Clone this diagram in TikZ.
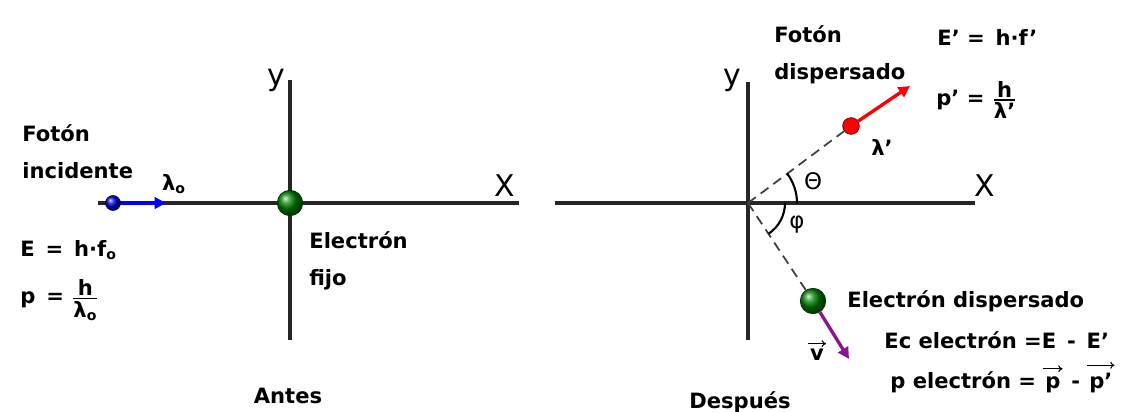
\documentclass[tikz,border=0pt]{standalone}
\usepackage{fontspec}
\usepackage{amsmath}
\setmainfont{DejaVu Sans}
\usetikzlibrary{arrows.meta}

\definecolor{purpura}{RGB}{140,20,140}
\tikzset{
  txt/.style={font=\fontsize{12}{21}\selectfont\bfseries, inner sep=0pt, align=left},
  axlbl/.style={font=\fontsize{17}{17}\selectfont, inner sep=0pt},
  anglbl/.style={font=\fontsize{13}{13}\selectfont, inner sep=0pt},
  axis/.style={line width=1.9pt, black!85},
  ray/.style={line width=1pt, black!75, dash pattern=on 5.5pt off 3.5pt},
  vec/.style={line width=1.9pt, ->},
  flecha/.style={line width=0.6pt, -{To[length=2.5pt, width=4pt]}},
  bola/.style={circle, inner sep=0pt, shading=ball},
}
\newcommand{\fracb}[2]{\ensuremath{\genfrac{}{}{1pt}{}{\mbox{#1}}{\mbox{#2}}}}

\begin{document}
\begin{tikzpicture}[x=0.02cm, y=-0.02cm, >={Triangle[length=6.5pt, width=6.5pt]}]
    \useasboundingbox (0,0) rectangle (1125,412);
    \fill[white] (0,0) rectangle (1125,412);

    % antes
    \coordinate (oA) at (290,203);
    \draw[axis] (98,203) coordinate (xA0) -- (519,203) coordinate (xA1);
    \draw[axis] (290,340) coordinate (yA0) -- (290,80) coordinate (yA1);
    \node[axlbl] (yA) at (276,80) {y};
    \node[axlbl] (xA) at (505,186) {X};

    \node[bola, draw=blue!40!black, ball color=blue!85!black, minimum size=8.5pt] (fotonI) at (113,203) {};
    \coordinate (fotonIfin) at (166,203);
    \draw[vec, blue] (fotonI) -- (fotonIfin);
    \node[txt] (lamI) at (174,184) {λ\textsubscript{o}};

    \node[bola, draw=green!20!black, ball color=green!50!black, minimum size=14.5pt] (elecF) at (oA) {};

    \node[txt, anchor=west] (fotonInc) at (22,152) {Fotón\\incidente};
    \node[txt, anchor=west] (energA) at (20,250) {E \,=\, h·f\textsubscript{o}};
    \node[txt, anchor=west] (momA) at (20,300) {p \,= \fracb{h}{λ\textsubscript{o}}};
    \node[txt, anchor=west] (elecFtxt) at (309,261) {Electrón\\fijo};
    \node[txt] (antes) at (288,396) {Antes};

    % despues
    \coordinate (oD) at (748,203);
    \draw[axis] (555,203) coordinate (xD0) -- (975,203) coordinate (xD1);
    \draw[axis] (748,340) coordinate (yD0) -- (748,82) coordinate (yD1);
    \node[axlbl] (yD) at (732,80) {y};
    \node[axlbl] (xD) at (985,186) {X};

    \node[circle, draw=red!40!black, fill=red, minimum size=9.5pt, inner sep=0pt] (fotonD) at (851,126) {};
    \node[bola, draw=green!20!black, ball color=green!50!black, minimum size=14.5pt] (elecD) at (813,301) {};
    \draw[ray] (oD) -- (fotonD);
    \draw[ray] (oD) -- (elecD);
    \coordinate (fotonDfin) at (910,86);
    \coordinate (elecDfin) at (849,359);
    \draw[vec, red] (fotonD) -- (fotonDfin);
    \draw[vec, purpura] (elecD) -- (elecDfin);

    \draw[line width=1.2pt] (oD) ++(49,0) arc (0:-37:49);
    \draw[line width=1.2pt] (oD) ++(37,0) arc (0:56:37);
    \node[anglbl] (theta) at (813,181) {Θ};
    \node[anglbl] (phi) at (797,225) {φ};

    \node[txt] (lamD) at (882,147) {λ'};
    \node[txt] (vD) at (817,355) {v};
    \draw[flecha] ([xshift=-1pt, yshift=3pt]vD.north west) -- ([xshift=1pt, yshift=3pt]vD.north east);
    \node[txt, anchor=west] (fotonDis) at (774,55) {Fotón\\dispersado};
    \node[txt, anchor=west] (energD) at (937,37) {E' = \,h·f'};
    \node[txt, anchor=west] (momD) at (936,100) {p' = \fracb{h}{λ'}};
    \node[txt, anchor=west] (elecDis) at (847,301) {Electrón dispersado};
    \node[txt, anchor=west] (ecD) at (884,340) {Ec electrón =E \,- \,E'};
    \node[txt, anchor=base west] (pD) at (890,388) {p electrón =};
    \node[txt, anchor=base west] (pv1) at (1045,388) {p};
    \node[txt, anchor=base west] (menos) at (1071,388) {-};
    \node[txt, anchor=base west] (pv2) at (1089,388) {p'};
    \draw[flecha] ([xshift=-1pt, yshift=4pt]pv1.north west) -- ([xshift=1pt, yshift=4pt]pv1.north east);
    \draw[flecha] ([xshift=-1pt, yshift=4pt]pv2.north west) -- ([xshift=1pt, yshift=4pt]pv2.north east);
    \node[txt] (despues) at (740,402) {Después};
\end{tikzpicture}
\end{document}
